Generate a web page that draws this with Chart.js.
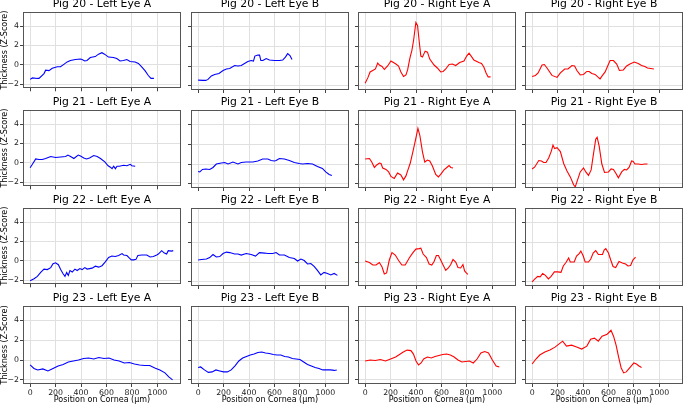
<!DOCTYPE html>
<html><head><meta charset="utf-8">
<script src="https://cdn.jsdelivr.net/npm/chart.js@4"></script>
<style>
html,body{margin:0;padding:0;width:685px;height:405px;overflow:hidden;background:#fff;position:relative}
canvas{position:absolute}
</style></head><body>
<script>
// ---------- data (position on cornea in µm, thickness z-score) ----------
const pigs = ['20','21','22','23'];
const eyes = ['Left Eye A','Left Eye B','Right Eye A','Right Eye B'];
const xTicks = [0,200,400,600,800,1000];
const yTicks = [-2,0,2,4];

const p20LA = [[0,-1.5],[18,-1.35],[57,-1.4],[70,-1.4],[109,-0.9],[122,-0.55],[148,-0.6],[174,-0.35],[200,-0.25],[213,-0.2],[239,-0.2],[265,0.05],[291,0.3],[317,0.45],[356,0.55],[395,0.6],[408,0.55],[430,0.4],[447,0.45],[473,0.75],[512,0.85],[538,1.1],[564,1.25],[585,1.1],[616,0.8],[655,0.75],[681,0.65],[707,0.4],[734,0.45],[760,0.55],[786,0.35],[825,0.3],[851,0.15],[877,-0.2],[903,-0.6],[929,-1.1],[950,-1.4],[973,-1.4]];
const p20LB = [[0,-1.42],[39,-1.45],[60,-1.45],[78,-1.35],[104,-1.0],[130,-0.85],[164,-0.75],[196,-0.45],[222,-0.3],[248,-0.25],[287,0.05],[313,0.0],[339,0.05],[365,0.25],[391,0.45],[417,0.55],[435,0.5],[446,1.0],[470,1.1],[483,1.1],[493,0.55],[509,0.55],[535,0.75],[561,0.6],[600,0.55],[639,0.55],[665,0.6],[686,0.9],[704,1.25],[722,1.05],[738,0.65]];
const p20RA = [[0,-1.75],[21,-1.2],[39,-0.6],[60,-0.45],[81,-0.3],[99,0.3],[112,0.1],[133,-0.05],[151,-0.35],[177,0.0],[203,0.5],[216,0.4],[242,0.2],[263,0.0],[281,-0.6],[302,-1.05],[321,-0.9],[334,-0.4],[352,0.8],[368,1.6],[381,2.6],[399,4.4],[412,4.1],[425,2.5],[438,1.0],[451,0.9],[472,1.5],[490,1.4],[508,0.7],[542,0.1],[568,-0.2],[594,-0.6],[613,-0.55],[634,-0.3],[660,0.15],[686,0.2],[712,0.05],[743,0.35],[777,0.5],[798,1.0],[817,1.3],[842,0.85],[855,0.6],[894,0.35],[915,0.25],[933,-0.1],[951,-0.7],[967,-1.1],[986,-1.1]];
const p20RB = [[0,-1.05],[26,-0.95],[47,-0.7],[78,0.1],[96,0.15],[117,-0.2],[156,-0.95],[196,-1.15],[222,-0.7],[256,-0.3],[282,-0.3],[313,0.05],[334,0.0],[352,-0.45],[378,-0.9],[404,-0.85],[430,-0.55],[448,-0.55],[469,-0.75],[495,-0.85],[516,-1.1],[534,-1.3],[553,-0.95],[574,-0.6],[594,0.0],[613,0.55],[639,0.55],[665,0.2],[686,-0.45],[717,-0.4],[743,0.0],[769,0.2],[803,0.4],[834,0.25],[860,0.05],[886,-0.05],[907,-0.2],[933,-0.25],[957,-0.3]];

const p21LA = [[0,-0.5],[18,-0.15],[44,0.4],[70,0.35],[96,0.35],[122,0.45],[162,0.65],[200,0.55],[240,0.6],[279,0.65],[297,0.8],[318,0.65],[344,0.45],[378,0.8],[396,0.7],[422,0.5],[443,0.4],[467,0.5],[500,0.75],[527,0.65],[553,0.45],[587,0.1],[613,-0.3],[631,-0.45],[644,-0.6],[657,-0.35],[670,-0.6],[683,-0.35],[701,-0.35],[735,-0.25],[761,-0.3],[787,-0.15],[800,-0.3],[826,-0.35]];
const p21LB = [[0,-0.75],[13,-0.8],[34,-0.55],[60,-0.5],[91,-0.55],[117,-0.35],[143,0.0],[182,0.1],[209,0.15],[235,0.0],[274,0.2],[313,0.0],[339,0.15],[378,0.2],[430,0.2],[469,0.3],[508,0.5],[548,0.5],[574,0.35],[600,0.3],[613,0.35],[639,0.55],[678,0.5],[717,0.35],[756,0.15],[795,0.05],[821,0.0],[860,0.05],[899,0.0],[938,-0.25],[977,-0.45],[1003,-0.8],[1030,-1.05],[1051,-1.15]];
const p21RA = [[0,0.5],[34,0.55],[52,0.2],[73,-0.35],[91,-0.1],[112,0.1],[125,0.05],[138,-0.4],[164,-0.55],[185,-0.8],[203,-1.25],[229,-1.45],[255,-0.9],[281,-1.1],[302,-1.6],[321,-1.2],[334,-0.7],[355,0.1],[373,1.1],[394,2.3],[415,3.6],[430,2.9],[451,1.2],[469,0.2],[490,0.4],[508,0.3],[529,-0.2],[555,-1.05],[576,-1.3],[594,-1.05],[620,-0.6],[647,-0.3],[660,-0.15],[673,-0.35],[691,-0.4]];
const p21RB = [[0,-0.5],[21,-0.3],[52,0.35],[73,0.3],[91,0.15],[109,0.15],[130,0.6],[151,1.3],[164,1.9],[177,1.55],[196,1.65],[222,1.25],[248,0.05],[274,-0.7],[300,-1.3],[326,-2.1],[339,-2.3],[360,-1.5],[378,-0.8],[404,-0.4],[422,-0.8],[443,-1.15],[464,-0.6],[482,1.0],[500,2.5],[511,2.7],[527,1.8],[548,0.0],[569,-0.85],[600,-0.8],[621,-0.5],[639,-0.55],[657,-0.9],[678,-1.4],[704,-0.8],[725,-0.55],[743,-0.6],[762,-0.35],[782,0.3],[795,0.25],[808,0.0],[834,0.0],[860,-0.05],[886,0.0],[907,0.0]];

const p22LA = [[0,-2.05],[31,-1.85],[57,-1.6],[83,-1.2],[109,-0.85],[135,-0.9],[162,-0.7],[180,-0.3],[200,-0.2],[222,-0.4],[240,-0.9],[258,-1.3],[274,-1.6],[287,-1.2],[300,-1.5],[313,-1.0],[331,-1.15],[352,-0.85],[370,-1.0],[391,-0.8],[409,-0.9],[430,-0.7],[448,-0.85],[487,-0.75],[513,-0.55],[539,-0.65],[565,-0.5],[591,-0.1],[617,0.35],[643,0.5],[669,0.45],[696,0.55],[722,0.75],[735,0.6],[761,0.55],[779,0.3],[795,0.1],[813,0.1],[832,0.15],[847,0.55],[878,0.6],[917,0.6],[943,0.4],[969,0.45],[995,0.6],[1008,0.7],[1034,1.05],[1055,0.8],[1073,0.7],[1086,1.05],[1112,1.0],[1125,1.05]];
const p22LB = [[0,0.2],[26,0.25],[65,0.3],[91,0.45],[117,0.75],[143,0.5],[170,0.55],[196,0.85],[222,1.0],[248,0.95],[287,0.8],[313,0.8],[339,0.7],[378,0.85],[417,0.75],[451,0.6],[482,0.95],[522,0.9],[548,0.85],[587,0.85],[613,0.95],[639,0.7],[678,0.7],[717,0.45],[756,0.35],[782,0.1],[808,0.3],[834,0.15],[860,-0.2],[886,-0.15],[912,-0.45],[938,-0.85],[964,-1.3],[990,-1.05],[1017,-1.15],[1043,-1.3],[1069,-1.15],[1095,-1.35]];
const p22RA = [[0,0.1],[34,-0.05],[60,-0.3],[86,-0.3],[112,-0.05],[133,-0.5],[151,-1.2],[169,-1.1],[190,0.2],[211,0.95],[237,0.7],[263,0.15],[289,-0.3],[315,-0.3],[347,0.4],[373,0.9],[399,1.3],[425,1.35],[438,1.4],[456,0.8],[482,0.45],[503,-0.2],[524,-0.3],[542,0.05],[560,0.65],[576,0.65],[594,0.2],[613,-0.3],[634,-0.85],[654,-0.6],[673,-0.25],[691,0.25],[712,0.0],[730,-0.55],[751,-0.6],[769,-0.25],[782,-0.9],[795,-1.1],[808,-1.25]];
const p22RB = [[0,-2.0],[18,-1.75],[44,-1.45],[63,-1.5],[83,-1.15],[104,-1.35],[128,-1.7],[149,-1.45],[175,-1.0],[201,-1.0],[227,-1.05],[245,-0.4],[266,-0.05],[287,0.4],[300,0.0],[318,0.0],[331,0.0],[349,0.6],[370,0.85],[383,1.1],[402,0.6],[417,0.0],[443,0.0],[461,0.3],[480,0.9],[500,1.15],[521,0.75],[553,0.75],[566,1.2],[579,1.35],[600,0.9],[618,0.2],[636,-0.45],[657,-0.55],[683,0.05],[709,-0.1],[735,-0.2],[753,-0.4],[774,-0.35],[792,0.2],[813,0.5]];

const p23LA = [[0,-0.5],[30,-0.85],[60,-1.0],[100,-0.9],[140,-1.1],[180,-0.85],[220,-0.6],[260,-0.45],[300,-0.2],[340,-0.1],[380,0.0],[420,0.15],[460,0.2],[500,0.1],[540,0.25],[580,0.15],[620,0.2],[660,0.0],[700,-0.1],[740,-0.3],[780,-0.25],[820,-0.4],[860,-0.5],[900,-0.55],[940,-0.55],[980,-0.8],[1020,-1.0],[1060,-1.3],[1090,-1.7],[1120,-2.0]];
const p23LB = [[0,-0.75],[20,-0.7],[50,-1.0],[80,-1.25],[110,-1.2],[140,-1.0],[170,-1.1],[200,-1.2],[230,-1.2],[260,-1.0],[290,-0.6],[320,-0.1],[350,0.2],[380,0.35],[410,0.5],[440,0.6],[470,0.75],[500,0.8],[530,0.7],[560,0.65],[590,0.55],[620,0.5],[650,0.5],[680,0.35],[710,0.3],[740,0.15],[770,0.1],[800,0.05],[830,-0.2],[860,-0.45],[890,-0.6],[920,-0.75],[950,-0.85],[980,-1.0],[1010,-1.0],[1040,-1.0],[1070,-1.05],[1090,-1.0]];
const p23RA = [[0,-0.1],[40,0.0],[80,-0.05],[120,0.05],[160,-0.1],[200,0.1],[240,0.3],[270,0.55],[300,0.8],[330,1.0],[360,0.95],[380,0.6],[400,-0.1],[420,-0.5],[440,-0.3],[460,0.1],[490,0.3],[520,0.2],[550,0.35],[580,0.45],[610,0.55],[640,0.6],[670,0.5],[700,0.3],[730,0.0],[760,-0.2],[790,-0.15],[820,-0.1],[850,-0.3],[880,0.1],[910,0.7],[940,0.85],[970,0.7],[1000,0.0],[1030,-0.6],[1055,-0.7]];
const p23RB = [[0,-0.4],[30,0.1],[60,0.5],[100,0.8],[140,1.0],[180,1.3],[210,1.6],[240,1.9],[270,1.4],[310,1.5],[350,1.3],[390,1.1],[430,1.4],[460,2.1],[490,2.2],[520,1.9],[550,2.4],[590,2.6],[620,3.0],[640,2.4],[660,1.5],[680,0.3],[700,-0.8],[720,-1.3],[740,-1.2],[760,-0.9],[780,-0.6],[800,-0.3],[820,-0.4],[840,-0.6],[860,-0.75]];

const series = [
  [p20LA,p20LB,p20RA,p20RB],
  [p21LA,p21LB,p21RA,p21RB],
  [p22LA,p22LB,p22RA,p22RB],
  [p23LA,p23LB,p23RA,p23RB]
];
const lineColors = ['#0000ff','#0000ff','#ff0000','#ff0000'];

// ---------- layout ----------
const FONT = 'DejaVu Sans';
const colLefts = [23,191,358,525];
const rowTops = [12,110,208,306];
const plotW = 158, plotH = 78;
const L = 23, R = 23, T = 14;

const framePlugin = {
  id:'frame',
  afterDatasetsDraw(ch){
    const {ctx, chartArea:a} = ch;
    ctx.save();
    ctx.strokeStyle = '#555';
    ctx.lineWidth = 1;
    ctx.strokeRect(Math.round(a.left)+0.5, Math.round(a.top)+0.5, Math.round(a.right-a.left)-1, Math.round(a.bottom-a.top)-1);
    ctx.restore();
  }
};

const fmt = v => v < 0 ? '\u2212' + Math.abs(v) : String(v);

for (let r = 0; r < 4; r++) {
  for (let c = 0; c < 4; c++) {
    const B = r === 3 ? 21 : 4;
    const cv = document.createElement('canvas');
    cv.width = plotW + L + R;
    cv.height = T + plotH + B;
    cv.style.left = (colLefts[c] - L) + 'px';
    cv.style.top = (rowTops[r] - T) + 'px';
    cv.style.width = cv.width + 'px';
    cv.style.height = cv.height + 'px';
    document.body.appendChild(cv);

    new Chart(cv, {
      type:'line',
      data:{datasets:[{
        data: series[r][c].map(([x,y]) => ({x,y})),
        borderColor: lineColors[c],
        borderWidth: 1.1,
        pointRadius: 0,
        tension: 0,
        fill: false,
        yAxisID: 'y'
      }]},
      options:{
        responsive:false, animation:false, devicePixelRatio:1,
        layout:{padding:0},
        plugins:{
          legend:{display:false},
          tooltip:{enabled:false},
          title:{display:true, text:'Pig ' + pigs[r] + ' - ' + eyes[c],
            font:{family:FONT,size:10.8,weight:'normal',lineHeight:1.2},
            color:'#000', padding:{top:0,bottom:1}}
        },
        scales:{
          x:{
            type:'linear', min:-56, max:1186,
            afterBuildTicks: s => { s.ticks = xTicks.map(v => ({value:v})); },
            afterFit: s => { s.height = B; },
            grid:{color:'#e0e0e0', lineWidth:1, drawTicks:true, tickLength:3, tickColor:'#444'},
            border:{display:false},
            ticks:{display: r === 3, autoSkip:false, maxRotation:0, padding:1,
              font:{family:FONT,size:7.8}, color:'#222', callback: v => fmt(v)},
            title:{display: r === 3, text:'Position on Cornea (µm)',
              font:{family:FONT,size:8,lineHeight:1.2}, color:'#000', padding:{top:0,bottom:0}}
          },
          y:{
            type:'linear', position:'left', min:-2.42, max:5.45,
            afterBuildTicks: s => { s.ticks = yTicks.map(v => ({value:v})); },
            afterFit: s => { s.width = L; },
            grid:{color:'#e0e0e0', lineWidth:1, drawTicks:true, tickLength:3, tickColor:'#444'},
            border:{display:false},
            ticks:{display: c === 0, autoSkip:false, padding:1,
              font:{family:FONT,size:7.8}, color:'#222', callback: v => fmt(v)},
            title:{display: c === 0, text:'Thickness (Z-Score)',
              font:{family:FONT,size:8,lineHeight:1.2}, color:'#000', padding:{top:0,bottom:0}}
          },
          yr:{
            type:'linear', position:'right', min:-2.42, max:5.45,
            afterFit: s => { s.width = R; },
            grid:{display:false, drawTicks:false},
            border:{display:false},
            ticks:{display:false}
          }
        }
      },
      plugins:[framePlugin]
    });
  }
}
</script>
</body></html>
